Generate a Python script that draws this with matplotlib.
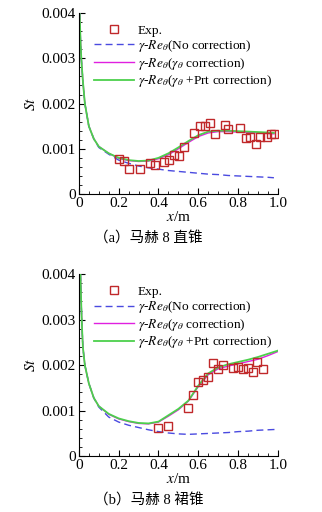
import numpy as np
import matplotlib
matplotlib.use('Agg')
import matplotlib.pyplot as plt
from matplotlib.ticker import MultipleLocator, FixedLocator

plt.rcParams['font.family'] = ['Liberation Serif', 'Noto Sans CJK SC']
plt.rcParams['mathtext.fontset'] = 'stix'

# (a) straight cone
exp_x_a = [0.200, 0.227, 0.254, 0.306, 0.358, 0.381, 0.430, 0.455, 0.480, 0.505, 0.530,
           0.580, 0.607, 0.634, 0.657, 0.684, 0.734, 0.751, 0.808, 0.838, 0.861, 0.890,
           0.911, 0.946, 0.963, 0.978]
exp_st_a = [0.00078, 0.00073, 0.00055, 0.00056, 0.00069, 0.00065, 0.00071, 0.00075, 0.00087,
            0.00085, 0.00103, 0.00134, 0.00150, 0.00151, 0.00157, 0.00133, 0.00153, 0.00143,
            0.00145, 0.00123, 0.00127, 0.00110, 0.00127, 0.00127, 0.00133, 0.00133]

cx_a = [0.004, 0.008, 0.012, 0.02, 0.03, 0.05, 0.075, 0.1, 0.15, 0.2, 0.25, 0.3, 0.35, 0.4,
        0.45, 0.5, 0.55, 0.6, 0.65, 0.7, 0.75, 0.8, 0.85, 0.9, 0.95, 0.98]
green_a = [0.0040, 0.0034, 0.0030, 0.0025, 0.0020, 0.00150, 0.00122, 0.00105, 0.00090, 0.00080,
           0.00075, 0.00073, 0.00074, 0.00080, 0.00090, 0.00103, 0.00117, 0.00130, 0.00138,
           0.00140, 0.00140, 0.00139, 0.00138, 0.00137, 0.00136, 0.00135]
magenta_a = [0.0040, 0.0034, 0.0030, 0.0025, 0.0020, 0.00150, 0.00122, 0.00105, 0.00090, 0.00079,
             0.00074, 0.00072, 0.00073, 0.00078, 0.00087, 0.00100, 0.00114, 0.00127, 0.00135,
             0.00138, 0.00138, 0.00137, 0.00136, 0.00135, 0.00134, 0.00133]
blue_a = [0.0040, 0.0034, 0.0030, 0.0025, 0.0020, 0.00150, 0.00122, 0.00103, 0.00088, 0.00075,
          0.00068, 0.00062, 0.00058, 0.00055, 0.00052, 0.00050, 0.00048, 0.00046, 0.00044,
          0.00043, 0.00041, 0.00040, 0.00039, 0.00038, 0.00037, 0.00036]

# (b) flared cone
exp_x_b = [0.396, 0.447, 0.547, 0.572, 0.597, 0.622, 0.647, 0.672, 0.697, 0.722, 0.773,
           0.798, 0.823, 0.848, 0.873, 0.896, 0.923]
exp_st_b = [0.00062, 0.00067, 0.00106, 0.00134, 0.00163, 0.00168, 0.00174, 0.00204, 0.00192,
            0.00200, 0.00194, 0.00197, 0.00191, 0.00194, 0.00186, 0.00206, 0.00192]

cx_b = [0.008, 0.012, 0.016, 0.02, 0.03, 0.05, 0.075, 0.1, 0.15, 0.2, 0.25, 0.3, 0.35, 0.4,
        0.45, 0.5, 0.55, 0.6, 0.65, 0.7, 0.75, 0.8, 0.85, 0.9, 0.95, 1.0]
green_b = [0.0040, 0.0033, 0.0028, 0.0024, 0.0020, 0.00160, 0.00128, 0.00110, 0.00093, 0.00083,
           0.00077, 0.00073, 0.00072, 0.00076, 0.00090, 0.00104, 0.00122, 0.00155, 0.00182,
           0.00195, 0.00202, 0.00207, 0.00212, 0.00218, 0.00225, 0.00232]
magenta_b = [0.0040, 0.0033, 0.0028, 0.0024, 0.0020, 0.00160, 0.00128, 0.00110, 0.00092, 0.00082,
             0.00076, 0.00072, 0.00071, 0.00075, 0.00088, 0.00102, 0.00121, 0.00153, 0.00179,
             0.00192, 0.00198, 0.00203, 0.00208, 0.00213, 0.00221, 0.00230]
blue_b = [0.0040, 0.0033, 0.0028, 0.0024, 0.0020, 0.00160, 0.00128, 0.00108, 0.00086, 0.00075,
          0.00068, 0.00063, 0.00058, 0.00054, 0.00051, 0.00049, 0.00048, 0.00049, 0.00050,
          0.00051, 0.00052, 0.00054, 0.00055, 0.00057, 0.00058, 0.00059]

labels = ['Exp.',
          r'$\gamma$-$Re_\theta$(No correction)',
          r'$\gamma$-$Re_\theta$($\gamma_\theta$ correction)',
          r'$\gamma$-$Re_\theta$($\gamma_\theta$ +Prt correction)']
captions = ['（a）马赫 8 直锥', '（b）马赫 8 裙锥']

fig = plt.figure(figsize=(3.22, 5.12), dpi=100)
ax_a = fig.add_axes([0.245, 0.621, 0.618, 0.3535])
ax_b = fig.add_axes([0.245, 0.109, 0.618, 0.3555])

panels = [(ax_a, exp_x_a, exp_st_a, cx_a, blue_a, magenta_a, green_a),
          (ax_b, exp_x_b, exp_st_b, cx_b, blue_b, magenta_b, green_b)]

for i, (ax, ex, es, cx, bl, mg, gr) in enumerate(panels):
    ax.plot(ex, es, 's', mfc='none', mec='#c0282a', ms=5.5, mew=1.0, label=labels[0], zorder=4)
    ax.plot(cx, bl, '--', color='#4a4ae0', lw=1.0, dashes=(5, 3), label=labels[1])
    ax.plot(cx, mg, '-', color='#e020e0', lw=1.0, label=labels[2])
    ax.plot(cx, gr, '-', color='#4cd04c', lw=1.3, label=labels[3])
    ax.set_xlim(0, 1.0)
    ax.set_ylim(0, 0.004)
    ax.spines['top'].set_visible(False)
    ax.spines['right'].set_visible(False)
    ax.xaxis.set_major_locator(FixedLocator([0, 0.2, 0.4, 0.6, 0.8, 1.0]))
    ax.set_xticklabels(['0', '0.2', '0.4', '0.6', '0.8', '1.0'])
    ax.xaxis.set_minor_locator(MultipleLocator(0.05))
    ax.yaxis.set_major_locator(FixedLocator([0, 0.001, 0.002, 0.003, 0.004]))
    ax.set_yticklabels(['0', '0.001', '0.002', '0.003', '0.004'])
    ax.yaxis.set_minor_locator(MultipleLocator(0.0002))
    ax.tick_params(which='major', direction='in', length=4, width=0.8, labelsize=11, pad=2)
    ax.tick_params(which='minor', direction='in', length=2, width=0.6)
    ax.set_xlabel(r'$x$/m', fontsize=11, labelpad=0)
    ax.set_ylabel(r'$St$', fontsize=11, labelpad=3)
    ax.legend(loc='upper left', bbox_to_anchor=(0.03, 0.99), frameon=False, fontsize=9.6,
              handlelength=3.0, handletextpad=0.25, labelspacing=0.12, borderpad=0.2)
    ax.text(0.35, -0.245, captions[i], transform=ax.transAxes,
            ha='center', va='center', fontsize=10.5)

fig.savefig('out.png', dpi=100)
